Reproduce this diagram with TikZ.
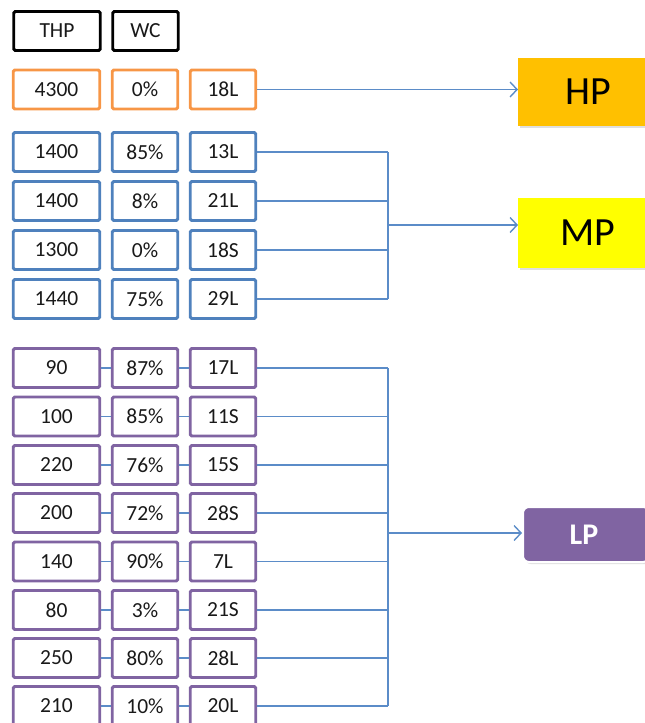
\documentclass[tikz,border=0pt]{standalone}
\usepackage{fontspec}
\setmainfont{Carlito}
\usetikzlibrary{arrows.meta,shadows}
\definecolor{orng}{HTML}{F79646}
\definecolor{blu}{HTML}{4F81BD}
\definecolor{purp}{HTML}{8064A2}
\definecolor{wirec}{HTML}{5B8CC8}
\definecolor{hpfill}{HTML}{FFC000}
\definecolor{mpfill}{HTML}{FFFF00}
\begin{document}
\begin{tikzpicture}[x=1pt,y=-1pt,
  cell/.style={draw,line width=2.9pt,rounded corners=1.5pt,minimum height=39pt,
    inner sep=0pt,font=\fontsize{21.5}{21.5}\selectfont,text=black!90},
  wide/.style={cell,minimum width=86.5pt},
  narrow/.style={cell,minimum width=65.5pt},
  wire/.style={draw=wirec,line width=1.4pt},
  feed/.style={wire,-{Straight Barb[length=7pt,width=15pt,line width=1.4pt]}},
  target/.style={anchor=west,inner sep=0pt,drop shadow={shadow xshift=2pt,shadow yshift=-2pt,opacity=0.25}},
]
\useasboundingbox (0,0) rectangle (645,723);

% column headers
\node[wide,draw=black] (thp) at (57,31) {THP};
\node[narrow,draw=black] (wc) at (145.5,31) {WC};

% high pressure group
\node[wide,draw=orng]   (h1) at (56.5,89.5) {4300};
\node[narrow,draw=orng] (h2) at (145,89.5) {0\%};
\node[narrow,draw=orng] (h3) at (223,89.5) {18L};

% medium pressure group
\foreach \i/\y/\a/\b/\c in {1/152/1400/85\%/13L, 2/201/1400/8\%/21L,
                            3/250/1300/0\%/18S, 4/299/1440/75\%/29L}{
  \node[wide,draw=blu]   (m\i1) at (56.5,\y) {\a};
  \node[narrow,draw=blu] (m\i2) at (145,\y) {\b};
  \node[narrow,draw=blu] (m\i3) at (223,\y) {\c};
}

% low pressure group
\foreach \i/\y/\a/\b/\c in {1/368/90/87\%/17L, 2/416.5/100/85\%/11S,
                            3/465/220/76\%/15S, 4/513/200/72\%/28S,
                            5/561.5/140/90\%/7L, 6/610/80/3\%/21S,
                            7/658/250/80\%/28L, 8/706/210/10\%/20L}{
  \node[wide,draw=purp]   (l\i1) at (56.5,\y) {\a};
  \node[narrow,draw=purp] (l\i2) at (145,\y) {\b};
  \node[narrow,draw=purp] (l\i3) at (223,\y) {\c};
}

% outlet headers
\node[target,fill=hpfill,minimum width=140pt,minimum height=68pt,
  font=\fontsize{40}{40}\selectfont] (HP) at (518,92) {HP};
\node[target,fill=mpfill,minimum width=140pt,minimum height=70pt,
  font=\fontsize{40}{40}\selectfont] (MP) at (518,233) {MP};
\node[target,fill=purp,draw=white,line width=2pt,rounded corners=6pt,
  minimum width=126pt,minimum height=55pt,text=white,
  font=\fontsize{30}{30}\selectfont\bfseries] (LP) at (522,534.5) {\hspace*{-4pt}LP};

% collecting bars
\coordinate (mbus) at (388,225);
\coordinate (lbus) at (388,533);

\draw[feed] (h3.east) -- (h3.east -| HP.west);

\foreach \i in {1,...,4}{
  \draw[wire] (m\i3.east) -- (m\i3.east -| mbus);
}
\draw[wire] (m13.east -| mbus) -- (m43.east -| mbus);
\draw[feed] (mbus) -- (mbus -| MP.west);

\foreach \i in {1,...,8}{
  \draw[wire] (l\i1.east) -- (l\i2.west);
  \draw[wire] (l\i2.east) -- (l\i3.west);
  \draw[wire] (l\i3.east) -- (l\i3.east -| lbus);
}
\draw[wire] (l13.east -| lbus) -- (l83.east -| lbus);
\draw[feed] (lbus) -- (lbus -| LP.west);
\end{tikzpicture}
\end{document}
